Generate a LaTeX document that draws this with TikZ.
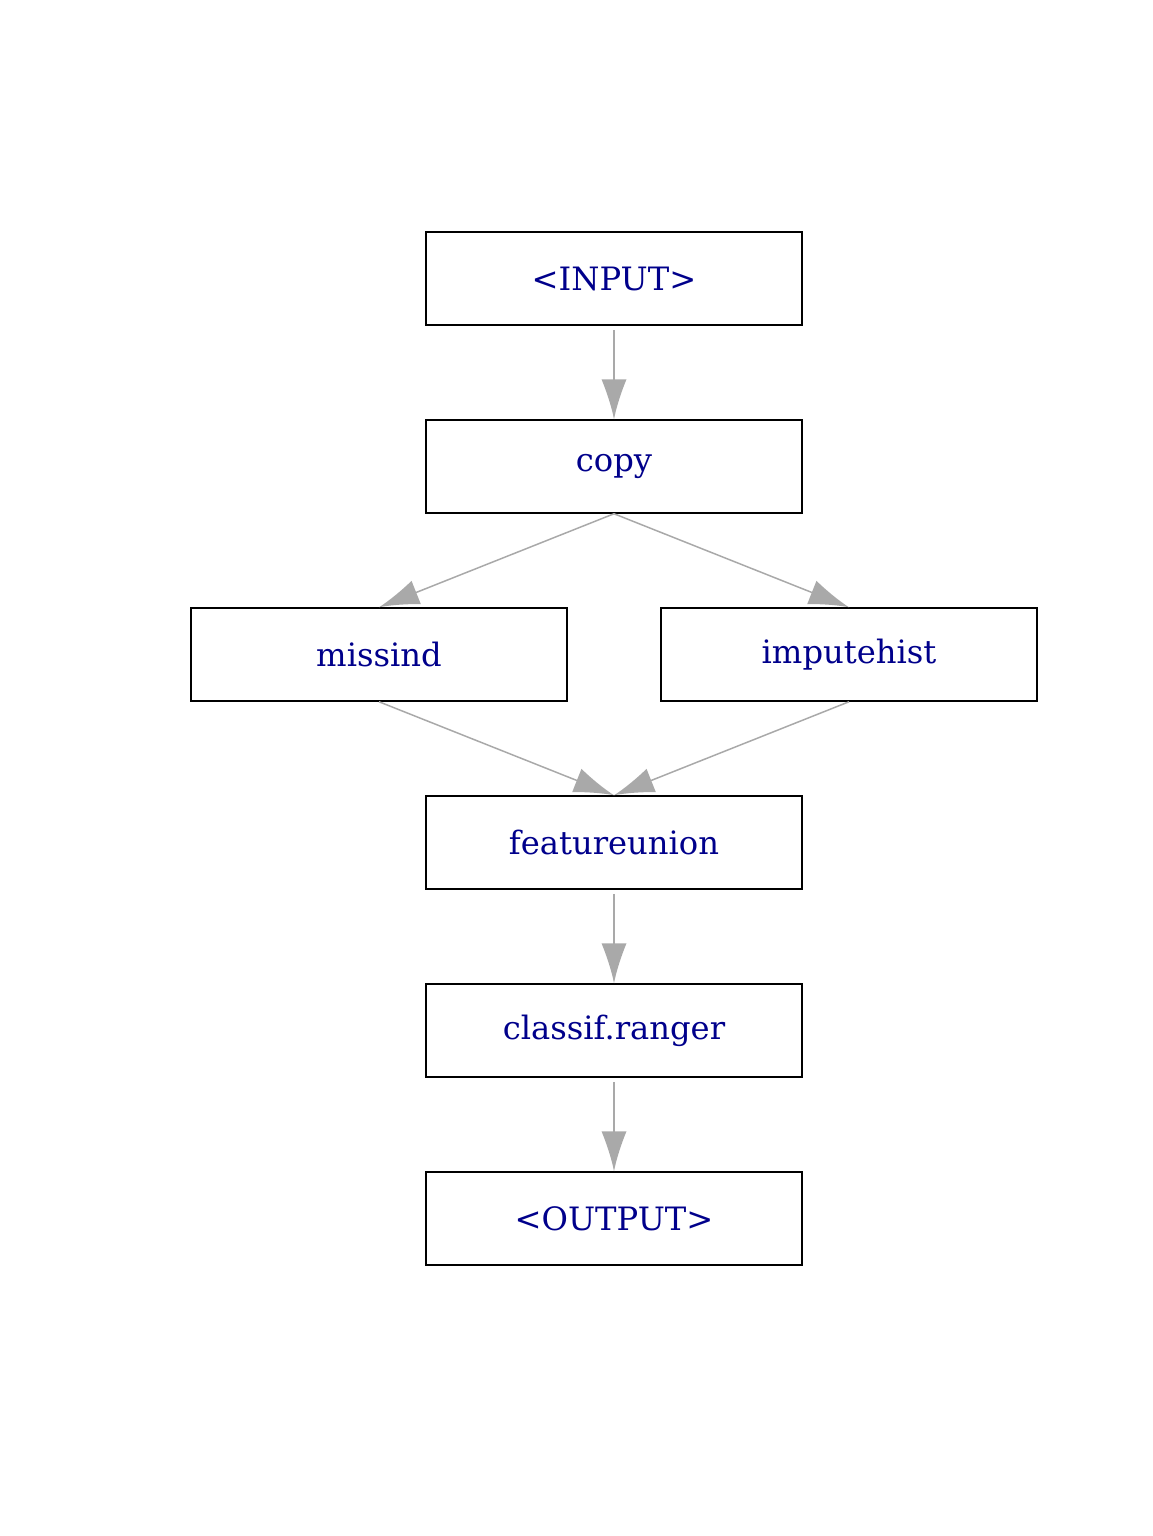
\documentclass[tikz,border=0pt]{standalone}
\usepackage{fontspec}
\setmainfont{DejaVu Serif}
\usetikzlibrary{arrows.meta}
\definecolor{lbl}{RGB}{0,0,139}
\definecolor{edgegray}{RGB}{169,169,169}
\pgfdeclarearrow{
  name = Funnel,
  parameters = {\the\pgfarrowlength,\the\pgfarrowwidth},
  setup code = {
    \pgfarrowssettipend{0pt}
    \pgfarrowssetlineend{-0.6\pgfarrowlength}
    \pgfarrowssetbackend{-\pgfarrowlength}
    \pgfarrowssavethe\pgfarrowlength
    \pgfarrowssavethe\pgfarrowwidth
  },
  drawing code = {
    \pgfpathmoveto{\pgfqpoint{0pt}{0pt}}
    \pgfpathcurveto{\pgfqpoint{-0.3\pgfarrowlength}{0.09\pgfarrowwidth}}{\pgfqpoint{-0.7\pgfarrowlength}{0.3\pgfarrowwidth}}{\pgfqpoint{-\pgfarrowlength}{0.5\pgfarrowwidth}}
    \pgfpathlineto{\pgfqpoint{-\pgfarrowlength}{-0.5\pgfarrowwidth}}
    \pgfpathcurveto{\pgfqpoint{-0.7\pgfarrowlength}{-0.3\pgfarrowwidth}}{\pgfqpoint{-0.3\pgfarrowlength}{-0.09\pgfarrowwidth}}{\pgfqpoint{0pt}{0pt}}
    \pgfpathclose
    \pgfusepathqfill
  },
  defaults = {length = 40pt, width = 25pt}
}
\begin{document}
\begin{tikzpicture}[x=1pt,y=-1pt,
  box/.style={draw=black, line width=1.5pt, minimum width=376pt, minimum height=93pt,
    inner sep=0pt, text=lbl, font=\fontsize{32.2}{38}\selectfont},
  edge/.style={draw=edgegray, line width=1.5pt, -{Funnel[length=40pt,width=25pt]}}]
\useasboundingbox (0,0) rectangle (1152,1536);
\node[box] (inp)  at (614,278.5)  {<INPUT>};
\node[box] (copy) at (614,466.5)  {copy};
\node[box] (miss) at (379,654.5)  {missind};
\node[box] (imp)  at (849,654.5)  {imputehist};
\node[box] (feat) at (614,842.5)  {featureunion};
\node[box] (cls)  at (614,1030.5) {classif.ranger};
\node[box] (out)  at (614,1218.5) {<OUTPUT>};
\draw[edge] ([yshift=-4pt]inp.south) -- (copy.north);
\draw[edge] (copy.south) -- (miss.north);
\draw[edge] (copy.south) -- (imp.north);
\draw[edge] (miss.south) -- (feat.north);
\draw[edge] (imp.south) -- (feat.north);
\draw[edge] ([yshift=-4pt]feat.south) -- (cls.north);
\draw[edge] ([yshift=-4pt]cls.south) -- (out.north);
\end{tikzpicture}
\end{document}
